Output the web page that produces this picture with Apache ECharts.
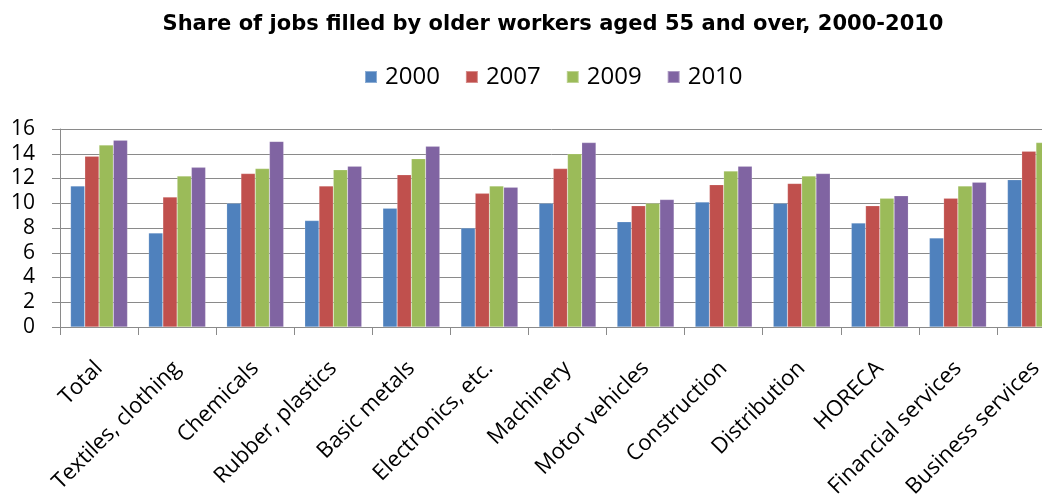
<!DOCTYPE html>
<html>
<head>
<meta charset="utf-8">
<script src="https://cdn.jsdelivr.net/npm/echarts@6/dist/echarts.min.js"></script>
<style>
  html, body { margin: 0; padding: 0; background: #fff; }
  #chart { width: 1042px; height: 499px; }
</style>
</head>
<body>
<div id="chart"></div>
<script>
// Sectors on the category axis
const sectors = [
  'Total', 'Textiles, clothing', 'Chemicals', 'Rubber, plastics', 'Basic metals',
  'Electronics, etc.', 'Machinery', 'Motor vehicles', 'Construction',
  'Distribution', 'HORECA', 'Financial services', 'Business services'
];

// Share of jobs held by workers aged 55+ (%), one array per year
const y2000 = [11.4, 7.6, 10.0, 8.6, 9.6, 8.0, 10.0, 8.5, 10.1, 10.0, 8.4, 7.2, 11.9];
const y2007 = [13.8, 10.5, 12.4, 11.4, 12.3, 10.8, 12.8, 9.8, 11.5, 11.6, 9.8, 10.4, 14.2];
const y2009 = [14.7, 12.2, 12.8, 12.7, 13.6, 11.4, 14.0, 10.0, 12.6, 12.2, 10.4, 11.4, 14.9];
const y2010 = [15.1, 12.9, 15.0, 13.0, 14.6, 11.3, 14.9, 10.3, 13.0, 12.4, 10.6, 11.7, 15.3];

const years = ['2000', '2007', '2009', '2010'];
const seriesData = [y2000, y2007, y2009, y2010];
const colors = ['#4F81BD', '#C0504D', '#9BBB59', '#8064A2'];

// Value axis ticks
const yMin = 0, yMax = 16, yStep = 2;

const chart = echarts.init(document.getElementById('chart'));
chart.setOption({
  animation: false,
  color: colors,
  title: {
    text: 'Share of jobs filled by older workers aged 55 and over, 2000-2010',
    left: 548,
    top: 9,
    textAlign: 'center',
    textStyle: {
      fontFamily: 'DejaVu Sans',
      fontWeight: 'bold',
      fontSize: 21,
      color: '#000'
    }
  },
  legend: {
    data: years,
    left: 359,
    top: 60,
    itemWidth: 12,
    itemHeight: 12,
    itemGap: 25,
    icon: 'rect',
    textStyle: {
      fontFamily: 'Open Sans',
      fontSize: 24,
      color: '#000',
      padding: [0, 0, 0, 3]
    }
  },
  // the plot runs past the right edge of the canvas, so its width is fixed
  grid: {
    left: 60,
    width: 1015,
    top: 129,
    bottom: 172,
    containLabel: false,
    outerBoundsMode: 'none'
  },
  xAxis: {
    type: 'category',
    data: sectors,
    axisLine: { lineStyle: { color: '#8a8a8a', width: 1 } },
    axisTick: { show: true, length: 8, alignWithLabel: false, lineStyle: { color: '#8a8a8a' } },
    axisLabel: {
      rotate: 45,
      interval: 0,
      margin: 38,
      fontFamily: 'Open Sans',
      fontSize: 22,
      color: '#000'
    }
  },
  yAxis: {
    type: 'value',
    min: yMin,
    max: yMax,
    interval: yStep,
    axisLine: { show: true, lineStyle: { color: '#8a8a8a', width: 1 } },
    axisTick: { show: true, length: 8, inside: false, lineStyle: { color: '#8a8a8a' } },
    splitLine: { show: true, lineStyle: { color: '#8a8a8a', width: 1 } },
    axisLabel: {
      margin: 25,
      fontFamily: 'Open Sans',
      fontSize: 21,
      color: '#000'
    }
  },
  series: years.map((name, i) => ({
    name: name,
    type: 'bar',
    data: seriesData[i],
    barGap: '0%',
    barCategoryGap: '27%',
    itemStyle: {
      color: colors[i],
      borderColor: 'rgba(255,255,255,0.35)',
      borderWidth: 0.5
    }
  }))
});
</script>
</body>
</html>
